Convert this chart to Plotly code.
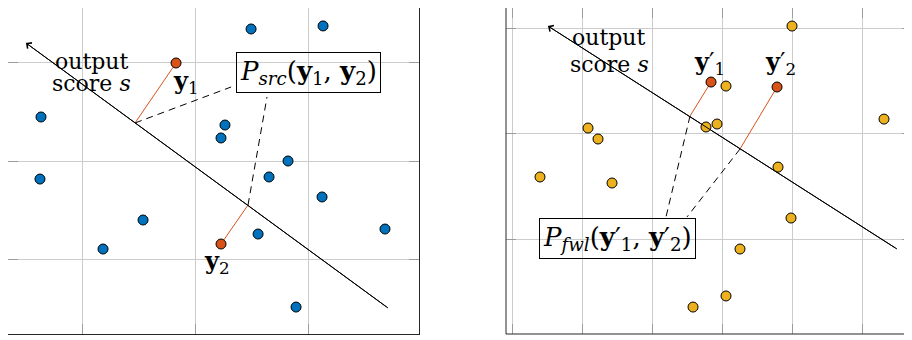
import plotly.graph_objects as go

# left panel: source space (grid units)
SRC_X = [0.637, 0.628, 1.186, 1.540, 2.230, 2.265, 2.496, 3.133, 2.823, 2.655, 3.124, 3.681, 2.558, 2.894]
SRC_Y = [2.449, 1.816, 1.102, 1.398, 2.235, 2.367, 3.347, 3.378, 2.000, 1.837, 1.633, 1.306, 1.255, 0.510]
SRC_PAIR_X = [1.832, 2.230]
SRC_PAIR_Y = [3.000, 1.153]
SRC_FOOT_X = [1.469, 2.469]
SRC_FOOT_Y = [2.388, 1.551]
SRC_SCORE_X = [3.708, 0.504]
SRC_SCORE_Y = [0.500, 3.204]
SRC_LINK_X = [2.319, 2.637]
SRC_LINK_Y = [2.755, 2.653]
SRC_XTICKS = [1, 2, 3]
SRC_YTICKS = [1, 2, 3]

# right panel: forward-looking space
FWL_X = [0.400, 1.086, 1.229, 1.429, 2.771, 2.929, 3.057, 4.000, 3.800, 5.314, 3.986, 3.257, 3.057, 2.586]
FWL_Y = [1.588, 2.052, 1.948, 1.531, 2.062, 2.090, 2.450, 3.019, 1.682, 2.137, 1.199, 0.905, 0.460, 0.355]
FWL_PAIR_X = [2.843, 3.786]
FWL_PAIR_Y = [2.488, 2.441]
FWL_FOOT_X = [2.543, 3.257]
FWL_FOOT_Y = [2.166, 1.853]
FWL_SCORE_X = [5.500, 0.514]
FWL_SCORE_Y = [0.905, 3.019]
FWL_LINK_X = [2.200, 2.500]
FWL_LINK_Y = [1.209, 1.209]
FWL_XTICKS = [0, 1, 2, 3, 4, 5]
FWL_YTICKS = [1, 2, 3]

BLUE = '#0072BD'
ORANGE = '#D95319'
YELLOW = '#EDB120'
FONT = 'DejaVu Serif'

# page body keeps its default 8px margin, so the figure is 8px smaller than the window
W, H = 904, 332


def joined(ax, ay, bx, by):
    xs, ys = [], []
    for a, b, c, d in zip(ax, ay, bx, by):
        xs += [a, c, None]
        ys += [b, d, None]
    return xs, ys


def add_panel(fig, pts, pair, foot, score, link, color, xa, ya):
    # score axis
    fig.add_trace(go.Scatter(x=score[0], y=score[1], mode='lines',
                             line=dict(color='black', width=1), xaxis=xa, yaxis=ya))
    fig.add_annotation(x=score[0][1], y=score[1][1], ax=score[0][0], ay=score[1][0],
                       xref=xa, yref=ya, axref=xa, ayref=ya, text='', showarrow=True,
                       arrowhead=4, arrowsize=1.4, arrowwidth=1, arrowcolor='black', standoff=0)
    # projections onto score axis
    xs, ys = joined(pair[0], pair[1], foot[0], foot[1])
    fig.add_trace(go.Scatter(x=xs, y=ys, mode='lines', line=dict(color=ORANGE, width=1),
                             xaxis=xa, yaxis=ya))
    xs, ys = joined(foot[0], foot[1], link[0], link[1])
    fig.add_trace(go.Scatter(x=xs, y=ys, mode='lines',
                             line=dict(color='black', width=1, dash='7px,5px'),
                             xaxis=xa, yaxis=ya))
    fig.add_trace(go.Scatter(x=pts[0], y=pts[1], mode='markers',
                             marker=dict(size=10, color=color, line=dict(color='black', width=1)),
                             xaxis=xa, yaxis=ya))
    fig.add_trace(go.Scatter(x=pair[0], y=pair[1], mode='markers',
                             marker=dict(size=10, color=ORANGE, line=dict(color='black', width=1)),
                             xaxis=xa, yaxis=ya))


fig = go.Figure()
add_panel(fig, (SRC_X, SRC_Y), (SRC_PAIR_X, SRC_PAIR_Y), (SRC_FOOT_X, SRC_FOOT_Y),
          (SRC_SCORE_X, SRC_SCORE_Y), (SRC_LINK_X, SRC_LINK_Y), BLUE, 'x', 'y')
add_panel(fig, (FWL_X, FWL_Y), (FWL_PAIR_X, FWL_PAIR_Y), (FWL_FOOT_X, FWL_FOOT_Y),
          (FWL_SCORE_X, FWL_SCORE_Y), (FWL_LINK_X, FWL_LINK_Y), YELLOW, 'x2', 'y2')

text_font = dict(family=FONT, size=22, color='black')
label_font = dict(family=FONT, size=24, color='black')
labels = [
    ('x', 'y', 1.088, 3.020, 'output', text_font),
    ('x', 'y', 1.088, 2.786, 'score <i>s</i>', text_font),
    ('x', 'y', 1.920, 2.811, '<b>y</b><sub>1</sub>', label_font),
    ('x', 'y', 2.195, 0.974, '<b>y</b><sub>2</sub>', label_font),
    ('x2', 'y2', 1.386, 2.910, 'output', text_font),
    ('x2', 'y2', 1.386, 2.654, 'score <i>s</i>', text_font),
    ('x2', 'y2', 2.821, 2.668, '<b>y</b>\u2032<sub>1</sub>', label_font),
    ('x2', 'y2', 3.829, 2.668, '<b>y</b>\u2032<sub>2</sub>', label_font),
]
for xr, yr, x, y, t, f in labels:
    fig.add_annotation(x=x, y=y, xref=xr, yref=yr, text=t, showarrow=False, font=f)

box_font = dict(family=FONT, size=26, color='black')
fig.add_annotation(x=3.004, y=2.898, xref='x', yref='y', showarrow=False, font=box_font,
                   text='<i>P</i><sub><i>src</i></sub>(<b>y</b><sub>1</sub>, <b>y</b><sub>2</sub>)',
                   bordercolor='black', borderwidth=1, borderpad=3)
fig.add_annotation(x=1.5, y=1.005, xref='x2', yref='y2', showarrow=False, font=box_font,
                   text='<i>P</i><sub><i>fwl</i></sub>(<b>y</b>\u2032<sub>1</sub>, <b>y</b>\u2032<sub>2</sub>)',
                   bordercolor='black', borderwidth=1, borderpad=3)

grid = dict(showgrid=True, gridcolor='#cccccc', gridwidth=1, zeroline=False,
            showticklabels=False, ticks='inside', ticklen=10, tickwidth=1,
            tickcolor='#9c9c9c', linecolor='#262626', linewidth=1)

fig.update_layout(
    width=W, height=H,
    margin=dict(l=0, r=0, t=0, b=0),
    paper_bgcolor='white', plot_bgcolor='white',
    showlegend=False,
    xaxis=dict(grid, domain=[0, 411 / W], range=[0.345, 3.982],
               tickvals=SRC_XTICKS, showline=True, mirror=False, anchor='y'),
    yaxis=dict(grid, domain=[6 / H, 1], range=[0.235, 3.561],
               tickvals=SRC_YTICKS, showline=True, mirror='ticks', anchor='x'),
    xaxis2=dict(grid, domain=[498 / W, 1], range=[-0.0857, 5.714],
                tickvals=FWL_XTICKS, showline=False, mirror='ticks', anchor='y2'),
    yaxis2=dict(grid, domain=[6 / H, 1], range=[0.0995, 3.190],
                tickvals=FWL_YTICKS, showline=False, mirror='ticks', anchor='x2'),
)

# right panel frame: only left and bottom edges are in view
fig.add_shape(type='line', xref='x2 domain', yref='y2 domain', x0=0, x1=1, y0=0, y1=0,
              line=dict(color='#262626', width=1))
fig.add_shape(type='line', xref='x2 domain', yref='y2 domain', x0=0, x1=0, y0=0, y1=1,
              line=dict(color='#262626', width=1))

fig.write_html("out.html")
